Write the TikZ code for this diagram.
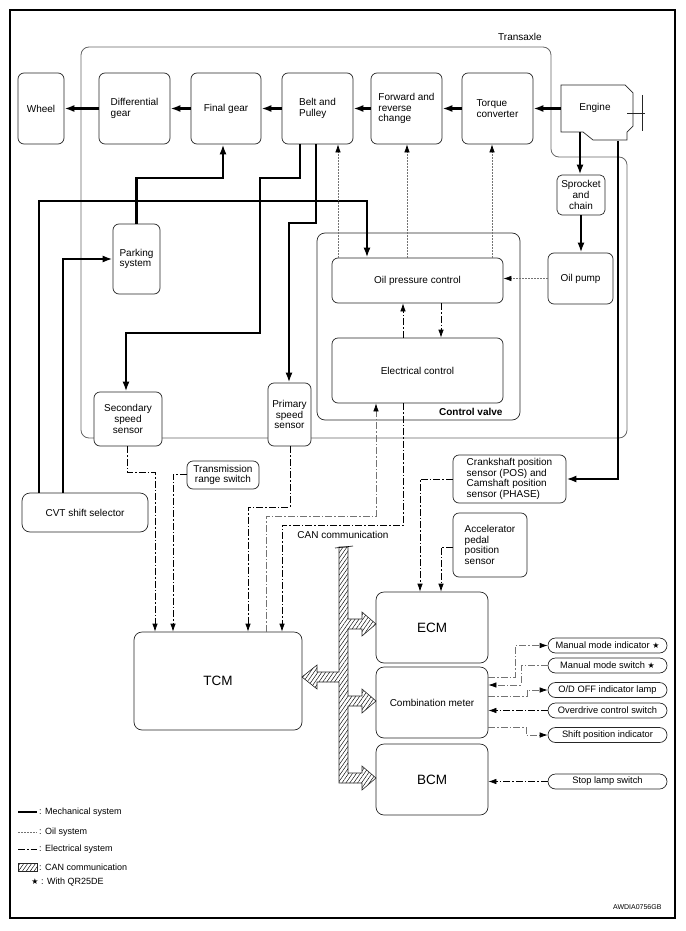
\documentclass[tikz,border=0pt]{standalone}
\usepackage{fontspec}
\setmainfont{Liberation Sans}
\newfontfamily\djv{DejaVu Sans}
\usetikzlibrary{arrows.meta,patterns.meta}
\newcommand\myfs{\fontsize{10}{10.7}\selectfont}
\newcommand\bigfs{\fontsize{13.5}{15}\selectfont}
\newcommand\smfs{\fontsize{9.3}{10}\selectfont}
\newcommand\lgfs{\fontsize{9}{10}\selectfont}
\newcommand\strsym{{\djv\fontsize{8}{8}\selectfont ★}}
\begin{document}
\begin{tikzpicture}[x=1pt,y=-1pt,
 box/.style={draw=black!85, line width=0.7pt, rounded corners=6pt, fill=white, inner sep=0pt, font=\myfs, align=center},
 pill/.style={box, rounded corners=7.5pt, minimum width=119pt, minimum height=15pt, font=\smfs},
 mechl/.style={line width=2.6pt},
 mech/.style={line width=2.6pt, -{Latex[length=10pt,width=7pt]}},
 oil/.style={draw=black!55, line width=0.7pt, dash pattern=on 1.5pt off 1.5pt, -{Latex[length=8pt,width=5.5pt,color=black]}},
 elec/.style={line width=0.7pt, dash pattern=on 7pt off 2pt on 1.5pt off 2pt, -{Latex[length=8pt,width=5.5pt]}},
 elecg/.style={elec, draw=black!55, -{Latex[length=8pt,width=5.5pt,color=black]}},
 elecl/.style={line width=0.7pt, dash pattern=on 7pt off 2pt on 1.5pt off 2pt},
 canfill/.style={pattern={Lines[angle=55,distance=3.2pt,line width=0.45pt]}, draw=black!85, line width=0.6pt}
]
\useasboundingbox (0,0) rectangle (685,931);
\draw[line width=2.5pt] (10,10) rectangle (675,918);

% Transaxle outline
\draw[draw=black!60, line width=0.8pt, rounded corners=8pt]
  (81,438) -- (81,47) -- (551,47) -- (551,157) -- (627,157) -- (627,438) -- cycle;
\node[font=\myfs] (transaxle) at (520,37) {Transaxle};

% Control valve
\node[box, rounded corners=8pt, minimum width=203, minimum height=187] (cv) at (418.5,326.5) {};
\node[font=\myfs\bfseries, anchor=east] (cvlabel) at (506,412) {Control valve};

% Top row
\node[box, minimum width=46, minimum height=71] (wheel) at (41,108.5) {Wheel};
\node[box, minimum width=71, minimum height=71, align=left] (diff) at (134.5,108.5) {Differential\\gear};
\node[box, minimum width=70, minimum height=71] (final) at (226,108.5) {Final gear};
\node[box, minimum width=71, minimum height=71, align=left] (belt) at (317.5,108.5) {Belt and\\Pulley};
\node[box, minimum width=71, minimum height=71, align=left] (fwd) at (406.5,108.5) {Forward and\\reverse\\change};
\node[box, minimum width=71, minimum height=71, align=left] (torque) at (497.5,108.5) {Torque\\converter};

% Engine
\draw[draw=black!85, line width=0.7pt, fill=white]
  (561,85) -- (625,85) -- (633,93) -- (633,126) -- (627,132) -- (627,140) -- (593,140) -- (583,132) -- (561,132) -- cycle;
\draw[draw=black!85, line width=0.7pt] (642,95) -- (642,131) (627,113) -- (645,113);
\node[minimum width=72, minimum height=56, inner sep=0pt] (engine) at (597,113) {};
\node[font=\myfs] (englabel) at (595,108) {Engine};
\coordinate (engs) at (580,132);

\node[box, rounded corners=5pt, minimum width=48, minimum height=40] (sprocket) at (581,195) {Sprocket\\and\\chain};
\node[box, minimum width=65, minimum height=51] (oilpump) at (580.5,278.5) {Oil pump};
\node[box, minimum width=171, minimum height=45] (oilp) at (417.5,280.5) {Oil pressure control};
\node[box, minimum width=171, minimum height=65] (elec) at (417.5,370.5) {Electrical control};
\node[box, minimum width=47, minimum height=70, align=left] (park) at (136.5,259) {Parking\\system};
\node[box, minimum width=68, minimum height=54] (secs) at (128,419) {Secondary\\speed\\sensor};
\node[box, minimum width=43, minimum height=63] (prim) at (289.5,414.5) {Primary\\speed\\sensor};
\node[box, minimum width=72, minimum height=28] (trs) at (223,475) {Transmission\\range switch};
\node[box, rounded corners=8pt, minimum width=126, minimum height=39] (cvt) at (85,512.5) {CVT shift selector};
\node[box, minimum width=113, minimum height=48, align=left] (crank) at (509.5,479) {Crankshaft position\\sensor (POS) and\\Camshaft position\\sensor (PHASE)};
\node[box, minimum width=74, minimum height=64, align=left] (accel) at (490,545) {Accelerator\\pedal\\position\\sensor};
\node[box, rounded corners=8pt, minimum width=168, minimum height=98, font=\bigfs] (tcm) at (218,681) {TCM};
\node[box, rounded corners=8pt, minimum width=112, minimum height=71, font=\bigfs] (ecm) at (432,627.5) {ECM};
\node[box, rounded corners=8pt, minimum width=112, minimum height=71] (comb) at (432,702.5) {Combination meter};
\node[box, rounded corners=8pt, minimum width=112, minimum height=71, font=\bigfs] (bcm) at (432,779.5) {BCM};
\node[font=\myfs] (canlabel) at (343,535) {CAN communication};

\node[pill] (ind1) at (607.5,645.5) {Manual mode indicator \strsym};
\node[pill] (ind2) at (607.5,665.5) {Manual mode switch \strsym};
\node[pill] (ind3) at (607.5,690) {O/D OFF indicator lamp};
\node[pill] (ind4) at (607.5,710.5) {Overdrive control switch};
\node[pill] (ind5) at (607.5,735) {Shift position indicator};
\node[pill] (ind6) at (607.5,781.5) {Stop lamp switch};

% Mechanical connectors
\draw[mech] (engine.west |- torque.east) -- (torque.east);
\draw[mech] (torque) -- (fwd);
\draw[mech] (fwd) -- (belt);
\draw[mech] (belt) -- (final);
\draw[mech] (final) -- (diff);
\draw[mech] (diff) -- (wheel);
\draw[mech] (engs) -- (sprocket.north -| engs);
\draw[mech] (sprocket.south) -- (sprocket.south |- oilpump.north);
\draw[mech] (engine.south -| 618,0) |- (crank.east);
\draw[mech] (belt.south -| 300,0) |- (260,178) |- (126,333) -- (secs.north -| 126,0);
\draw[mech] (belt.south -| 316,0) |- (289,223) -- (prim.north -| 289,0);
\draw[mech] (park.north) |- (223,178) -- (final.south -| 223,0);
\draw[mech] (cvt.north -| 39,0) |- (367,201) -- (oilp.north -| 367,0);
\draw[mech] (cvt.north -| 63,0) |- (park.west);

% Oil connectors
\draw[oil] (oilpump.west) -- (oilp.east |- oilpump.west);
\draw[oil] (oilp.north -| 338,0) -- (belt.south -| 338,0);
\draw[oil] (oilp.north -| 407,0) -- (fwd.south -| 407,0);
\draw[oil] (oilp.north -| 492,0) -- (torque.south -| 492,0);

% Electrical connectors
\draw[elec] (elec.north -| 403,0) -- (oilp.south -| 403,0);
\draw[elec] (oilp.south -| 441,0) -- (elec.north -| 441,0);
\draw[elec] (secs.south -| 127,0) |- (155,472) -- (tcm.north -| 155,0);
\draw[elec] (trs.west |- 0,474) -- (173,474) -- (tcm.north -| 173,0);
\draw[elec] (prim.south -| 290,0) |- (248,507) -- (tcm.north -| 248,0);
\draw[elecg] (tcm.north -| 266,0) |- (376,516) -- (elec.south -| 376,0);
\draw[elec] (elec.south -| 403,0) |- (282,525) -- (tcm.north -| 282,0);
\draw[elec] (crank.west |- 0,479) -| (ecm.north -| 420,0);
\draw[elec] (accel.west |- 0,547) -| (ecm.north -| 441,0);
\draw[elecg] (comb.east |- 0,677) -| (515,645.5) -- (ind1.west);
\draw[elecg] (ind2.west) -| (521,685) -- (comb.east |- 0,685);
\draw[elecg] (comb.east |- 0,696) -| (527,690) -- (ind3.west);
\draw[elec] (ind4.west) -- (comb.east |- ind4.west);
\draw[elecg] (comb.east |- 0,727) -| (526,735) -- (ind5.west);
\draw[elec] (ind6.west) -- (bcm.east |- ind6.west);

% CAN bus
\draw[canfill]
 (339,547) -- (339,672) -- (317,672) -- (317,665) -- (302,677) -- (317,689) -- (317,682) -- (339,682)
 -- (339,783) -- (362,783) -- (362,790) -- (376,778) -- (362,766) -- (362,773) -- (348,773)
 -- (348,706) -- (362,706) -- (362,713) -- (376,701) -- (362,689) -- (362,696) -- (348,696)
 -- (348,629) -- (362,629) -- (362,636) -- (376,624) -- (362,612) -- (362,619) -- (348,619)
 -- (348,547) -- cycle;
\draw[line width=0.6pt] (335,548) -- (353,546);

% Legend
\draw[line width=2.6pt] (18,812) -- (37,812);
\node[font=\lgfs, anchor=west, inner sep=0pt] (lg1) at (39,812) {: Mechanical system};
\draw[draw=black!55, line width=0.7pt, dash pattern=on 1.5pt off 1.5pt] (18,832) -- (37,832);
\node[font=\lgfs, anchor=west, inner sep=0pt] (lg2) at (39,832) {: Oil system};
\draw[elecl] (18,849) -- (37,849);
\node[font=\lgfs, anchor=west, inner sep=0pt] (lg3) at (39,849) {: Electrical system};
\draw[canfill] (18,863) rectangle (37,871);
\node[font=\lgfs, anchor=west, inner sep=0pt] (lg4) at (39,867) {: CAN communication};
\node[inner sep=0pt] (lgstar) at (35,882) {\strsym};
\node[font=\lgfs, anchor=west, inner sep=0pt] (lg5) at (41,882) {: With QR25DE};

\node[font=\fontsize{7}{8}\selectfont, anchor=east] (code) at (665,907) {AWDIA0756GB};
\end{tikzpicture}
\end{document}
